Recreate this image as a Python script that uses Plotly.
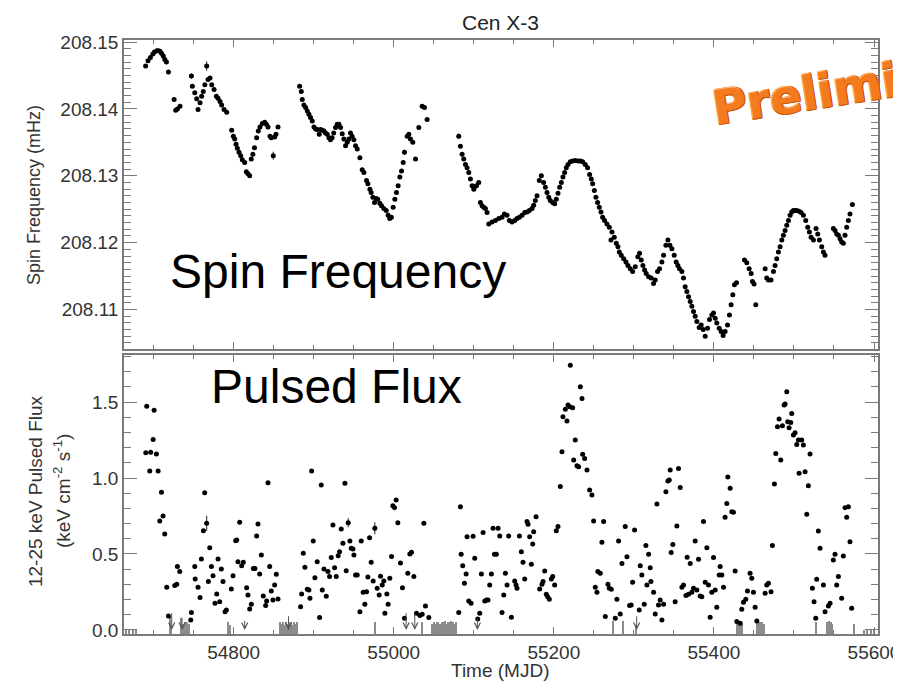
import plotly.graph_objects as go

# ---------------- Spin frequency (mHz) vs MJD ----------------
spin_mjd_a = [54690.0, 54693.0, 54696.0, 54699.0, 54701.0, 54704.0, 54706.0, 54708.0, 54710.0, 54712.0,
              54714.0, 54716.0, 54718.5,
              54725.6, 54727.6, 54729.7, 54733.0,
              54747.2, 54748.4, 54751.4, 54753.8, 54755.5, 54758.0, 54760.0, 54762.0, 54764.0, 54766.3,
              54768.0, 54770.5, 54772.6, 54775.5, 54778.4, 54780.5, 54783.0, 54785.0, 54788.0, 54791.3,
              54797.5, 54799.6, 54801.3, 54803.0, 54804.6, 54806.7, 54808.8, 54810.8, 54813.8, 54815.8,
              54817.9, 54820.0, 54822.0, 54824.0, 54826.0, 54828.7, 54830.8, 54832.9, 54835.8, 54838.7,
              54840.8, 54842.9, 54845.4, 54847.0, 54849.5, 54851.2, 54852.9, 54855.4]
spin_frq_a = [208.1464, 208.1472, 208.1477, 208.1482, 208.1485, 208.1487, 208.1487, 208.1486, 208.1483, 208.1479,
              208.1474, 208.1470, 208.1455,
              208.1414, 208.1398, 208.1400, 208.1404,
              208.1449, 208.1434, 208.1424, 208.1415, 208.1399, 208.1409, 208.1419, 208.1426, 208.1436, 208.1464,
              208.1444, 208.1446, 208.1436, 208.1429, 208.1419, 208.1416, 208.1411, 208.1406, 208.1399, 208.1395,
              208.1368, 208.1359, 208.1355, 208.1347, 208.1341, 208.1335, 208.1330, 208.1324, 208.1320, 208.1306,
              208.1303, 208.1300, 208.1325, 208.1332, 208.1342, 208.1357, 208.1367, 208.1373, 208.1378, 208.1380,
              208.1377, 208.1373, 208.1359, 208.1357, 208.1330, 208.1358, 208.1362, 208.1373]

spin_mjd_b = [54882.4, 54884.5, 54885.7, 54887.8, 54889.9, 54892.0, 54894.0, 54896.0, 54898.2, 54900.3,
              54902.4, 54904.4, 54906.9, 54908.6, 54910.7, 54912.8, 54914.8, 54916.9, 54919.0, 54921.0,
              54923.0, 54925.0, 54927.3, 54929.4, 54931.5, 54933.6, 54935.6, 54937.7, 54939.8, 54941.9,
              54944.0, 54946.0, 54948.0, 54950.2, 54952.3, 54954.4, 54957.7, 54960.6, 54962.7, 54966.0,
              54967.7, 54970.2, 54971.8, 54973.9, 54976.0, 54978.0, 54980.0, 54982.6, 54984.7, 54987.6,
              54990.6, 54993.0, 54995.0, 54997.0, 54999.3, 55001.4, 55003.4, 55005.5, 55007.6, 55009.7,
              55011.8, 55013.4, 55016.8, 55018.8, 55020.9, 55023.8, 55027.2, 55031.3, 55035.5, 55038.4,
              55041.7]
spin_frq_b = [208.1434, 208.1426, 208.1414, 208.1406, 208.1402, 208.1397, 208.1392, 208.1387, 208.1382, 208.1373,
              208.1370, 208.1369, 208.1362, 208.1369, 208.1368, 208.1367, 208.1364, 208.1362, 208.1357, 208.1354,
              208.1357, 208.1364, 208.1372, 208.1377, 208.1377, 208.1372, 208.1363, 208.1355, 208.1345, 208.1350,
              208.1355, 208.1364, 208.1359, 208.1354, 208.1345, 208.1340, 208.1327, 208.1309, 208.1305, 208.1293,
              208.1288, 208.1280, 208.1275, 208.1268, 208.1260, 208.1266, 208.1265, 208.1259, 208.1255, 208.1251,
              208.1248, 208.1241, 208.1236, 208.1238, 208.1253, 208.1265, 208.1275, 208.1285, 208.1298, 208.1307,
              208.1320, 208.1335, 208.1359, 208.1362, 208.1355, 208.1350, 208.1325, 208.1372, 208.1404, 208.1402,
              208.1384]

spin_mjd_c = [55081.2, 55083.3, 55085.4, 55087.5, 55089.6, 55091.6, 55093.7, 55095.8, 55097.9, 55100.0,
              55103.3, 55106.2, 55108.3, 55110.4, 55112.4, 55114.5, 55116.6, 55118.7, 55122.8,
              55127.0, 55131.2, 55135.3, 55138.2, 55141.6, 55144.5, 55147.8, 55151.1, 55154.0, 55157.0,
              55160.3, 55163.6, 55166.5, 55169.4, 55172.8, 55174.8, 55176.9, 55179.0, 55181.9, 55184.4,
              55187.3, 55189.4, 55191.5, 55193.6, 55195.6, 55198.6, 55201.0, 55203.1, 55205.2, 55207.3,
              55209.4, 55211.4, 55213.5, 55215.6, 55217.7, 55220.6, 55223.5, 55226.8, 55230.2, 55233.1,
              55236.0, 55239.3, 55242.2, 55244.7, 55246.8, 55248.5, 55250.6, 55252.6, 55254.7, 55256.8,
              55258.9, 55261.0, 55263.4, 55266.4, 55269.3, 55271.4, 55272.6, 55275.5, 55278.0, 55280.1,
              55281.8, 55284.2, 55287.2, 55290.1, 55292.6, 55295.5, 55298.4, 55301.7, 55305.0, 55307.1,
              55309.2, 55311.3, 55313.4, 55315.4, 55318.4, 55321.7, 55324.6, 55326.7, 55329.6, 55332.1,
              55335.0, 55337.1, 55340.0, 55342.5, 55345.0, 55347.5, 55350.4, 55352.9, 55355.0, 55357.0,
              55360.0, 55362.0, 55364.1, 55366.2, 55368.3, 55370.4, 55372.4, 55374.5, 55376.6, 55378.7,
              55381.6, 55384.1, 55386.6, 55389.1, 55392.0, 55394.5, 55397.4, 55399.5, 55401.6, 55403.6,
              55406.6, 55409.0, 55411.5, 55414.0, 55417.0, 55419.4, 55421.5, 55423.6, 55425.7, 55428.2,
              55438.2, 55441.1, 55444.0, 55446.5, 55448.2, 55450.2, 55452.3, 55464.0, 55466.0, 55468.1,
              55471.4, 55474.4, 55476.4, 55478.5, 55480.6, 55482.7, 55484.8, 55486.8, 55488.9, 55491.0,
              55493.1, 55495.2, 55497.2, 55499.3, 55501.4, 55503.5, 55506.4, 55508.9, 55511.8, 55514.7,
              55517.2, 55519.3, 55521.4, 55524.3, 55527.6, 55529.7, 55531.8, 55534.7, 55536.8, 55538.8,
              55549.2, 55551.3, 55553.4, 55555.5, 55557.6, 55559.6, 55561.7, 55563.8, 55565.9, 55568.0,
              55570.0, 55573.0]
spin_frq_c = [208.1359, 208.1344, 208.1332, 208.1325, 208.1317, 208.1312, 208.1305, 208.1295, 208.1285, 208.1280,
              208.1285, 208.1290, 208.1260, 208.1255, 208.1253, 208.1251, 208.1245, 208.1228, 208.1231,
              208.1233, 208.1236, 208.1238, 208.1243, 208.1241, 208.1233, 208.1231, 208.1233, 208.1236, 208.1238,
              208.1241, 208.1245, 208.1246, 208.1248, 208.1251, 208.1256, 208.1263, 208.1270, 208.1293, 208.1300,
              208.1290, 208.1283, 208.1275, 208.1268, 208.1263, 208.1260, 208.1258, 208.1265, 208.1274, 208.1283,
              208.1290, 208.1298, 208.1305, 208.1312, 208.1317, 208.1321, 208.1322, 208.1323, 208.1322, 208.1322,
              208.1321, 208.1317, 208.1312, 208.1302, 208.1295, 208.1288, 208.1278, 208.1268, 208.1260, 208.1253,
              208.1246, 208.1238, 208.1233, 208.1228, 208.1223, 208.1204, 208.1216, 208.1208, 208.1199, 208.1194,
              208.1186, 208.1181, 208.1176, 208.1171, 208.1166, 208.1161, 208.1157, 208.1164, 208.1179, 208.1184,
              208.1174, 208.1166, 208.1159, 208.1154, 208.1149, 208.1147, 208.1139, 208.1144, 208.1157, 208.1161,
              208.1171, 208.1181, 208.1196, 208.1204, 208.1196, 208.1191, 208.1181, 208.1171, 208.1166, 208.1161,
              208.1157, 208.1147, 208.1134, 208.1127, 208.1119, 208.1112, 208.1105, 208.1097, 208.1090, 208.1082,
              208.1073, 208.1077, 208.1070, 208.1060, 208.1072, 208.1085, 208.1092, 208.1095, 208.1087, 208.1080,
              208.1072, 208.1067, 208.1061, 208.1067, 208.1077, 208.1092, 208.1107, 208.1122, 208.1137, 208.1140,
              208.1174, 208.1170, 208.1161, 208.1154, 208.1142, 208.1138, 208.1107, 208.1161, 208.1147, 208.1144,
              208.1144, 208.1157, 208.1166, 208.1176, 208.1186, 208.1194, 208.1204, 208.1211, 208.1218, 208.1226,
              208.1233, 208.1241, 208.1246, 208.1248, 208.1248, 208.1248, 208.1247, 208.1245, 208.1241, 208.1233,
              208.1223, 208.1216, 208.1208, 208.1204, 208.1221, 208.1213, 208.1204, 208.1194, 208.1186, 208.1181,
              208.1221, 208.1218, 208.1213, 208.1211, 208.1206, 208.1201, 208.1199, 208.1211, 208.1223, 208.1233,
              208.1243, 208.1257]

spin_err_mjd = [54747.2, 54766.3, 54849.5, 54906.9, 55013.4, 55081.2, 55103.3, 55184.4]
spin_err_frq = [208.1449, 208.1464, 208.1330, 208.1362, 208.1335, 208.1359, 208.1285, 208.1300]
spin_err_val = [0.0004, 0.0007, 0.0006, 0.0003, 0.0004, 0.0004, 0.0004, 0.0003]

# ---------------- Pulsed flux vs MJD ----------------
flux_mjd_a = [54690.2, 54691.4, 54695.2, 54696.4, 54699.4, 54700.6, 54703.5, 54705.6, 54707.7, 54709.8,
              54711.8, 54713.9, 54716.4, 54718.5, 54726.4, 54728.9, 54729.7, 54732.6, 54746.4, 54747.2,
              54751.4, 54751.9, 54755.5, 54758.0, 54759.7, 54762.2, 54763.8, 54766.3, 54768.4, 54770.1,
              54772.2, 54774.2, 54776.7, 54778.8, 54780.5, 54782.6, 54784.6, 54786.7, 54789.2, 54790.9,
              54797.1, 54799.2, 54802.5, 54803.8, 54805.4, 54807.5, 54810.0, 54812.1, 54816.2, 54817.9,
              54820.0, 54822.1, 54824.6, 54826.6, 54828.7, 54830.4, 54832.5, 54834.6, 54837.0, 54840.0,
              54841.2, 54842.9, 54845.0, 54847.0, 54849.1, 54851.2, 54853.3, 54855.4, 54883.6, 54884.9,
              54887.0, 54889.0, 54892.0, 54894.0, 54895.3, 54897.4, 54899.4, 54901.5, 54904.4, 54907.4,
              54909.4, 54910.7, 54912.8, 54915.7, 54917.8, 54919.8, 54921.9, 54924.0, 54926.1, 54928.2,
              54930.6, 54932.3, 54934.4, 54936.5, 54939.0, 54940.6, 54943.1, 54945.2, 54946.9, 54949.0,
              54950.2, 54952.3, 54954.4, 54957.7, 54959.4, 54961.8, 54963.9, 54966.0, 54967.7, 54969.8,
              54971.8, 54974.3, 54976.4, 54979.3, 54981.8, 54983.5, 54985.6, 54987.6, 54988.9, 54991.4,
              54993.0, 54995.1, 54997.2, 54998.9, 55001.0, 55003.0, 55005.1, 55008.4, 55010.9, 55013.4,
              55017.6, 55020.1, 55022.2, 55025.1, 55028.4, 55032.6, 55035.5, 55037.6, 55039.6, 55043.8,
              55081.2, 55083.3, 55084.2, 55086.2, 55088.3, 55090.4, 55091.6, 55093.7, 55096.6, 55099.1,
              55101.2, 55104.9, 55107.4, 55109.5, 55111.6, 55113.7, 55115.8, 55117.8, 55119.9, 55122.0,
              55124.1, 55125.8, 55128.2, 55130.3, 55132.4]
flux_val_a = [1.166, 1.473, 1.046, 1.169, 1.254, 1.447, 1.158, 1.046, 0.717, 0.906,
              0.750, 0.631, 0.281, 0.092, 0.292, 0.300, 0.417, 0.384, 0.066, 0.114,
              0.417, 0.335, 0.281, 0.213, 0.467, 0.653, 0.903, 0.702, 0.318, 0.541,
              0.417, 0.357, 0.175, 0.237, 0.467, 0.186, 0.401, 0.318, 0.120, 0.131,
              0.270, 0.357, 0.587, 0.592, 0.449, 0.708, 0.423, 0.445, 0.278, 0.230,
              0.138, 0.169, 0.405, 0.405, 0.618, 0.697, 0.368, 0.493, 0.223, 0.160,
              0.191, 0.969, 0.417, 0.256, 0.197, 0.296, 0.366, 0.204, 0.153, 0.237,
              0.504, 0.412, 0.267, 0.263, 0.208, 1.046, 0.585, 0.344, 0.449, 0.081,
              0.954, 0.263, 0.401, 0.221, 0.384, 0.351, 0.476, 0.691, 0.410, 0.351,
              0.489, 0.515, 0.664, 0.570, 0.965, 0.390, 0.706, 0.585, 0.537, 0.533,
              0.493, 0.362, 0.362, 0.120, 0.585, 0.248, 0.169, 0.252, 0.349, 0.607,
              0.445, 0.322, 0.669, 0.274, 0.230, 0.353, 0.296, 0.322, 0.109, 0.237,
              0.169, 0.340, 0.484, 0.818, 0.805, 0.855, 0.706, 0.441, 0.278, 0.077,
              0.373, 0.500, 0.511, 0.351, 0.109, 0.094, 0.103, 0.702, 0.158, 0.081,
              0.114, 0.811, 0.498, 0.423, 0.307, 0.368, 0.614, 0.191, 0.175, 0.616,
              0.471, 0.072, 0.109, 0.368, 0.642, 0.191, 0.197, 0.197, 0.296, 0.368,
              0.669, 0.498, 0.498, 0.669, 0.618]

flux_mjd_b = [55135.3, 55137.4, 55139.5, 55141.6, 55143.6, 55147.0, 55151.1, 55152.8, 55154.0, 55157.0,
              55159.4, 55161.5, 55163.6, 55166.5, 55167.8, 55169.8, 55171.9, 55173.6, 55174.8, 55177.8,
              55182.3, 55185.2, 55186.5, 55188.6, 55190.6, 55192.3, 55194.4, 55196.9, 55198.6, 55201.0,
              55203.1, 55205.2, 55208.1, 55210.2, 55211.4, 55214.4, 55216.4, 55217.7, 55219.8, 55220.6,
              55223.5, 55224.8, 55226.8, 55228.9, 55231.0, 55233.1, 55235.2, 55236.0, 55238.5, 55241.4,
              55244.7, 55247.6, 55249.7, 55251.8, 55253.9, 55255.0, 55258.0, 55260.1, 55262.2, 55264.3,
              55267.6, 55269.3, 55271.8, 55276.8, 55278.8, 55280.9, 55283.0, 55285.1, 55289.2, 55291.3,
              55294.6, 55296.7, 55298.4, 55300.9, 55306.7, 55308.0, 55310.0, 55313.0, 55315.0, 55316.3,
              55318.4, 55320.4, 55321.3, 55324.6, 55326.7, 55328.8, 55330.8, 55332.9, 55335.0, 55337.1,
              55340.0, 55342.5, 55344.2, 55345.4, 55346.6, 55348.7, 55351.6, 55353.7, 55355.8, 55357.9,
              55360.0, 55362.0, 55365.0, 55366.6, 55368.3, 55370.4, 55372.4, 55374.5, 55376.6, 55378.7,
              55380.8, 55382.8, 55384.9, 55387.0, 55389.1, 55391.2, 55393.2, 55395.3, 55397.4, 55399.5,
              55401.6, 55403.6, 55406.6, 55407.8, 55409.9, 55412.0, 55414.0, 55416.1, 55417.4, 55420.3,
              55422.4, 55424.4, 55426.5, 55428.6, 55432.8, 55434.8, 55436.9, 55439.8, 55441.9, 55445.2,
              55447.3, 55449.4, 55451.5, 55453.6, 55464.0, 55466.0, 55468.1, 55471.4, 55473.1, 55475.6,
              55477.3, 55479.4, 55481.4, 55483.5, 55485.6, 55487.7, 55488.9, 55491.0, 55492.2, 55493.9,
              55496.0, 55497.2, 55499.3, 55501.4, 55503.5, 55505.6, 55506.4, 55509.7, 55511.8, 55513.9,
              55516.0, 55518.0, 55520.1, 55523.0, 55525.1, 55527.2, 55528.4, 55530.5, 55532.6, 55536.8,
              55538.8, 55543.0, 55545.1, 55549.2, 55551.3, 55553.4, 55555.5, 55559.6, 55561.7, 55563.8,
              55565.9, 55568.0, 55570.0, 55572.1]
flux_val_b = [0.114, 0.230, 0.373, 0.296, 0.618, 0.083, 0.322, 0.296, 0.274, 0.618,
              0.515, 0.445, 0.335, 0.713, 0.695, 0.614, 0.432, 0.566, 0.647, 0.745,
              0.270, 0.300, 0.318, 0.388, 0.234, 0.219, 0.202, 0.335, 0.351, 0.296,
              0.653, 0.680, 0.945, 1.173, 1.403, 1.452, 1.375, 1.480, 1.469, 1.743,
              1.463, 1.118, 1.250, 1.081, 1.074, 1.601, 1.524, 1.156, 1.129, 1.052,
              0.921, 0.888, 0.717, 0.281, 0.248, 0.384, 0.373, 0.577, 0.713, 0.088,
              0.300, 0.274, 0.267, 0.077, 0.202, 0.585, 0.105, 0.438, 0.680, 0.482,
              0.160, 0.164, 0.313, 0.658, 0.131, 0.423, 0.362, 0.169, 0.555, 0.296,
              0.498, 0.410, 0.318, 0.248, 0.105, 0.829, 0.164, 0.197, 0.066, 0.169,
              0.910, 0.980, 0.987, 1.052, 0.509, 0.563, 0.186, 0.684, 1.063, 0.938,
              0.281, 0.296, 0.226, 0.478, 0.234, 0.438, 0.248, 0.274, 0.585, 0.263,
              0.465, 0.223, 0.219, 0.713, 0.313, 0.541, 0.296, 0.083, 0.248, 0.476,
              0.263, 0.149, 0.362, 0.417, 0.362, 0.281, 0.741, 0.833, 1.006, 0.932,
              0.778, 0.774, 0.388, 0.055, 0.044, 0.136, 0.182, 0.202, 0.256, 0.373,
              0.340, 0.248, 0.149, 0.059, 0.241, 0.296, 0.307, 0.252, 0.555, 0.960,
              1.162, 1.338, 1.388, 1.118, 1.344, 1.480, 1.487, 1.568, 1.370, 1.331,
              1.366, 1.425, 1.283, 1.298, 1.221, 1.250, 1.031, 1.250, 1.217, 1.041,
              0.761, 0.949, 1.158, 0.274, 0.186, 0.077, 0.333, 0.651, 0.537, 0.296,
              0.120, 0.158, 0.175, 0.460, 0.498, 0.296, 0.351, 0.208, 0.487, 0.805,
              0.741, 0.811, 0.581, 0.142]

flux_err_mjd = [54766.3, 54943.1, 54976.4]
flux_err_val = [0.702, 0.706, 0.669]
flux_err = [0.05, 0.03, 0.04]

# upper limits (arrows) and near-zero detections (grey bars)
ul_mjd = [54722.6, 54735.5, 54813.8, 54868.5, 55015.5, 55026.3, 55104.5, 55303.5]
ul_val = [0.12, 0.09, 0.07, 0.10, 0.12, 0.11, 0.08, 0.10]

zero_mjd = [54666, 54670, 54674, 54678, 54720.6, 54722.2, 54735.0, 54737.0, 54740.0, 54742.0, 54744.0, 54793.0, 54795.5,
            54857.5, 54859.5, 54861.5, 54863.5, 54865.5, 54867.5, 54869.5, 54871.5, 54873.5, 54875.5, 54877.5, 54879.5,
            54977.2, 55035.5,
            55048, 55050, 55052, 55054, 55056, 55058, 55060, 55062, 55064, 55066, 55068, 55070, 55072, 55074, 55076, 55078,
            55274.7, 55287.2, 55302.6,
            55429.5, 55431.5, 55433.5, 55435.5,
            55454.5, 55456.5, 55458.5, 55460.5, 55462.5,
            55527.2, 55542.0, 55544.0, 55546.0, 55548.0, 55575.4,
            55588, 55592, 55596, 55600]
zero_top = [0.0, 0.0, 0.0, 0.0, 0.09, 0.03, 0.08, 0.04, 0.05, 0.05, 0.04, 0.05, 0.03,
            0.05, 0.04, 0.05, 0.03, 0.05, 0.04, 0.05, 0.05, 0.03, 0.05, 0.04, 0.05,
            0.05, 0.05,
            0.04, 0.05, 0.04, 0.05, 0.05, 0.04, 0.05, 0.05, 0.06, 0.04, 0.05, 0.05, 0.06, 0.05, 0.04, 0.05,
            0.06, 0.06, 0.03,
            0.06, 0.05, 0.06, 0.04,
            0.05, 0.05, 0.05, 0.05, 0.04,
            0.05, 0.05, 0.06, 0.05, 0.04, 0.04,
            0.0, 0.0, 0.0, 0.0]

# axes
mjd_ticks = [54800, 55000, 55200, 55400, 55600]
spin_ticks = [208.11, 208.12, 208.13, 208.14, 208.15]
flux_ticks = [0.0, 0.5, 1.0, 1.5]
MJD_RANGE = [54663, 55605]
SPIN_RANGE = [208.1041, 208.1503]
FLUX_RANGE = [-0.027, 1.81]

FONT = "Liberation Sans, Arial, Helvetica, sans-serif"
FRAME = "#7a7a7a"
TXT = "#333333"

fig = go.Figure()

spin_mjd = spin_mjd_a + spin_mjd_b + spin_mjd_c
spin_frq = spin_frq_a + spin_frq_b + spin_frq_c
fig.add_trace(go.Scatter(x=spin_err_mjd, y=spin_err_frq, mode="markers",
                         marker=dict(size=4, color="black"),
                         error_y=dict(type="data", array=spin_err_val, color="#222", thickness=1, width=0),
                         xaxis="x", yaxis="y", showlegend=False))
fig.add_trace(go.Scatter(x=spin_mjd, y=spin_frq, mode="markers",
                         marker=dict(size=5, color="black"),
                         xaxis="x", yaxis="y", showlegend=False))

FLOOR = FLUX_RANGE[0]
fig.add_trace(go.Bar(x=zero_mjd, y=[t - FLOOR for t in zero_top], base=FLOOR, width=1.6,
                     marker=dict(color="#8c8c8c", line=dict(width=0)),
                     xaxis="x2", yaxis="y2", showlegend=False))
fig.add_trace(go.Scatter(x=flux_err_mjd, y=flux_err_val, mode="markers",
                         marker=dict(size=4, color="black"),
                         error_y=dict(type="data", array=flux_err, color="#222", thickness=1, width=0),
                         xaxis="x2", yaxis="y2", showlegend=False))
fig.add_trace(go.Scatter(x=flux_mjd_a + flux_mjd_b, y=flux_val_a + flux_val_b, mode="markers",
                         marker=dict(size=5, color="black"),
                         xaxis="x2", yaxis="y2", showlegend=False))

annotations = []
for m, v in zip(ul_mjd, ul_val):
    annotations.append(dict(x=m, y=0.0, ax=m, ay=v, xref="x2", yref="y2", axref="x2", ayref="y2",
                            text="", showarrow=True, arrowhead=5, arrowsize=1.2, arrowwidth=1,
                            arrowcolor="#555555"))

def tick_font(size=19):
    return dict(family=FONT, size=size, color=TXT)

annotations += [
    dict(text="Cen X-3", x=0.4987, y=1.029, xref="paper", yref="paper", showarrow=False,
         font=dict(family=FONT, size=21, color="#222"), xanchor="center", yanchor="middle"),
    dict(text="Spin Frequency", x=0.0584, y=0.611, xref="paper", yref="paper", showarrow=False,
         font=dict(family=FONT, size=48, color="black"), xanchor="left", yanchor="middle"),
    dict(text="Pulsed Flux", x=0.113, y=0.4167, xref="paper", yref="paper", showarrow=False,
         font=dict(family=FONT, size=48, color="black"), xanchor="left", yanchor="middle"),
    dict(text="Spin Frequency (mHz)", x=-0.1194, y=0.739, xref="paper", yref="paper", showarrow=False,
         textangle=-90, font=tick_font(18), xanchor="center", yanchor="middle"),
    dict(text="12-25 keV Pulsed Flux", x=-0.118, y=0.2407, xref="paper", yref="paper", showarrow=False,
         textangle=-90, font=tick_font(19), xanchor="center", yanchor="middle"),
    dict(text="(keV cm<sup>-2</sup> s<sup>-1</sup>)", x=-0.0822, y=0.2407, xref="paper", yref="paper",
         showarrow=False, textangle=-90, font=tick_font(19), xanchor="center", yanchor="middle"),
    dict(text="Time (MJD)", x=0.4987, y=-0.062, xref="paper", yref="paper", showarrow=False,
         font=tick_font(19), xanchor="center", yanchor="middle"),
    dict(text="<b>Preliminary</b>", x=0.772, y=0.836, xref="paper", yref="paper", showarrow=False,
         textangle=-9, xanchor="left", yanchor="bottom",
         font=dict(family="DejaVu Sans, sans-serif", size=47, color="#f47a1e",
                   shadow="1px 1px 0 #c55400, -1px -1px 0 #ffb070, 1px -1px 0 #d86000, -1px 1px 0 #d86000")),
]

xcommon = dict(range=MJD_RANGE, showline=True, linecolor=FRAME, linewidth=1.5, mirror="ticks",
               ticks="inside", tickcolor=FRAME, tickwidth=1, showgrid=False, zeroline=False,
               tickmode="array", tickvals=mjd_ticks,
               minor=dict(tick0=54600, dtick=50, ticks="inside", ticklen=4, tickcolor=FRAME, tickwidth=1))

# page body has an 8px margin: the figure is offset so the plot area lands where the reference has it
fig.update_layout(
    width=893, height=683,
    margin=dict(l=116, r=23, t=32, b=57, autoexpand=False),
    paper_bgcolor="white", plot_bgcolor="white",
    bargap=0,
    xaxis=dict(xcommon, domain=[0, 1], anchor="y", showticklabels=False, ticklen=7, matches="x2"),
    xaxis2=dict(xcommon, domain=[0, 1], anchor="y2", ticklen=7, ticktext=[str(t) for t in mjd_ticks],
                tickfont=tick_font(19), ticklabelstandoff=0, ticklabeloverflow="allow"),
    yaxis=dict(domain=[0.4798, 1], anchor="x", range=SPIN_RANGE, showline=True, linecolor=FRAME,
               linewidth=1.5, mirror="ticks", ticks="inside", ticklen=13, tickcolor=FRAME, tickwidth=1,
               tickmode="array", tickvals=spin_ticks, ticktext=["%.2f" % t for t in spin_ticks],
               tickfont=tick_font(19), showgrid=False, zeroline=False,
               minor=dict(tick0=208.10, dtick=0.001, ticks="inside", ticklen=7, tickcolor=FRAME, tickwidth=1)),
    yaxis2=dict(domain=[0, 0.4697], anchor="x2", range=FLUX_RANGE, showline=True, linecolor=FRAME,
                linewidth=1.5, mirror="ticks", ticks="inside", ticklen=13, tickcolor=FRAME, tickwidth=1,
                tickmode="array", tickvals=flux_ticks, ticktext=["%.1f" % t for t in flux_ticks],
                tickfont=tick_font(19), showgrid=False, zeroline=False,
                minor=dict(tick0=0, dtick=0.1, ticks="inside", ticklen=7, tickcolor=FRAME, tickwidth=1)),
    annotations=annotations,
)

fig.write_html("out.html")
